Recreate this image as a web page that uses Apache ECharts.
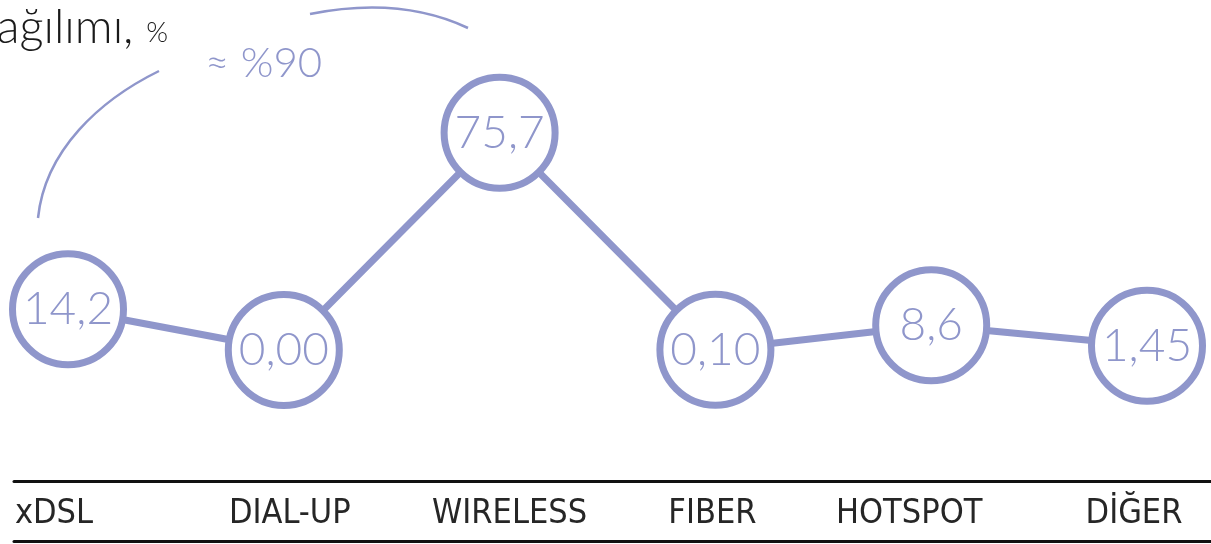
<!DOCTYPE html>
<html>
<head>
<meta charset="utf-8">
<style>
  html, body { margin: 0; padding: 0; background: #fff; }
  #chart { width: 1211px; height: 544px; }
</style>
<script src="https://cdn.jsdelivr.net/npm/echarts@6/dist/echarts.min.js"></script>
</head>
<body>
<div id="chart"></div>
<script>
  // data
  const categories = ['xDSL', 'DIAL-UP', 'WIRELESS', 'FIBER', 'HOTSPOT', 'DİĞER']
  const shares = [14.2, 0.00, 75.7, 0.10, 8.6, 1.45]
  const shareLabels = ['14,2', '0,00', '75,7', '0,10', '8,6', '1,45']

  const lilac = '#8f96cb'
  // small horizontal nudges so the axis labels sit like in the original
  const labelNudge = [-14, 6, 10, -3, -22, -13]

  let myChart = echarts.init(document.getElementById('chart'))
  myChart.setOption({
    animation: false,
    grid: [
      { left: 68, right: 64, top: 63, bottom: 194 },
      { left: 14, right: 0, top: 481, height: 60 }
    ],
    xAxis: [
      {
        type: 'category',
        gridIndex: 0,
        boundaryGap: false,
        offset: 131,
        data: categories.map((c, i) => ({
          value: c,
          textStyle: {
            padding: labelNudge[i] < 0 ? [0, -2 * labelNudge[i], 0, 0] : [0, 0, 0, 2 * labelNudge[i]]
          }
        })),
        axisLine: { show: false },
        axisTick: { show: false },
        axisLabel: {
          color: '#262626',
          fontSize: 34,
          fontFamily: "'DejaVu Sans Condensed', 'Liberation Sans Narrow', sans-serif",
          verticalAlign: 'middle',
          margin: 16
        }
      },
      {
        type: 'value',
        gridIndex: 1,
        position: 'top',
        axisLine: { show: true, onZero: false, lineStyle: { color: '#111', width: 3 } },
        axisTick: { show: false },
        axisLabel: { show: false },
        splitLine: { show: false }
      },
      {
        type: 'value',
        gridIndex: 1,
        position: 'bottom',
        axisLine: { show: true, onZero: false, lineStyle: { color: '#111', width: 3 } },
        axisTick: { show: false },
        axisLabel: { show: false },
        splitLine: { show: false }
      }
    ],
    yAxis: [
      { type: 'value', gridIndex: 0, min: 0, max: 100, show: false },
      { type: 'value', gridIndex: 1, min: 0, max: 1, show: false }
    ],
    graphic: [
      {
        type: 'text',
        right: 1211 - 168,
        top: 4,
        style: {
          text: '{a|ağılımı, }{b|%}',
          rich: {
            a: { fontSize: 47, fontFamily: 'Lato', fontWeight: 300, fill: '#1a1a1a' },
            b: { fontSize: 28, fontFamily: 'Lato', fontWeight: 300, fill: '#1a1a1a', verticalAlign: 'bottom', padding: [0, 0, 4, 0] }
          }
        }
      },
      {
        type: 'text',
        left: 205,
        top: 42,
        style: {
          text: '≈ %90',
          fontSize: 42,
          fontFamily: 'Lato',
          fontWeight: 300,
          fill: lilac
        }
      },
      {
        type: 'bezierCurve',
        shape: { x1: 38, y1: 218, cpx1: 45, cpy1: 150, cpx2: 100, cpy2: 100, x2: 159, y2: 71 },
        style: { stroke: lilac, lineWidth: 2.5, fill: null }
      },
      {
        type: 'bezierCurve',
        shape: { x1: 310, y1: 14, cpx1: 400, cpy1: -4, x2: 468, y2: 28 },
        style: { stroke: lilac, lineWidth: 2.5, fill: null }
      }
    ],
    series: [
      {
        type: 'line',
        xAxisIndex: 0,
        yAxisIndex: 0,
        data: shares,
        symbol: 'circle',
        symbolSize: 111,
        lineStyle: { color: lilac, width: 7 },
        itemStyle: { color: '#fff', borderColor: lilac, borderWidth: 7 },
        label: {
          show: true,
          position: 'inside',
          formatter: (p) => shareLabels[p.dataIndex],
          color: lilac,
          fontSize: 46,
          fontFamily: 'Lato',
          fontWeight: 300
        },
        emphasis: { disabled: true },
        z: 3
      }
    ]
  })
  window.addEventListener('resize', function () {
    myChart.resize()
  })
</script>
</body>
</html>
